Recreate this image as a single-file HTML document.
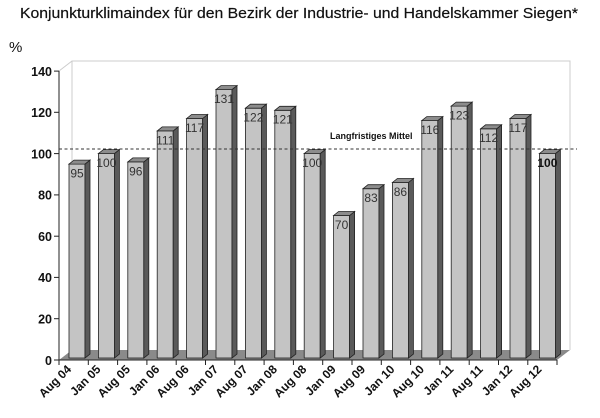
<!DOCTYPE html>
<html><head><meta charset="utf-8"><style>
body{margin:0;background:#fff;}
svg{display:block;font-family:"Liberation Sans",sans-serif;}
</style></head><body>
<svg width="600" height="418" viewBox="0 0 600 418" xmlns="http://www.w3.org/2000/svg">
<text x="20" y="18" font-size="15" textLength="558" lengthAdjust="spacingAndGlyphs" fill="#111" stroke="#111" stroke-width="0.2">Konjunkturklimaindex für den Bezirk der Industrie- und Handelskammer Siegen*</text>
<text x="9" y="52" font-size="15" fill="#111">%</text>
<polyline points="72,350 72,61 570,61 570,350" fill="none" stroke="#ccc" stroke-width="1"/>
<line x1="59" y1="71" x2="72" y2="61" stroke="#ccc"/>
<polygon points="59,360 72,350 570,350 557,360" fill="#8a8a8a"/>
<line x1="59" y1="71" x2="59" y2="360" stroke="#222"/>
<line x1="59" y1="360" x2="557" y2="360" stroke="#222"/>
<g stroke="#222">
<line x1="54" y1="360" x2="59" y2="360"/><line x1="54" y1="318.7" x2="59" y2="318.7"/>
<line x1="54" y1="277.4" x2="59" y2="277.4"/><line x1="54" y1="236.2" x2="59" y2="236.2"/>
<line x1="54" y1="194.9" x2="59" y2="194.9"/><line x1="54" y1="153.6" x2="59" y2="153.6"/>
<line x1="54" y1="112.3" x2="59" y2="112.3"/><line x1="54" y1="71.1" x2="59" y2="71.1"/>
</g>
<g font-size="12.5" font-weight="bold" text-anchor="end" fill="#111">
<text x="52" y="365">0</text><text x="52" y="323.5">20</text><text x="52" y="282">40</text>
<text x="52" y="241">60</text><text x="52" y="199.5">80</text><text x="52" y="158.5">100</text>
<text x="52" y="117">120</text><text x="52" y="76">140</text>
</g>
<g stroke="#222">
<line x1="59" y1="360" x2="59" y2="365"/><line x1="88.3" y1="360" x2="88.3" y2="365"/>
<line x1="117.6" y1="360" x2="117.6" y2="365"/><line x1="146.9" y1="360" x2="146.9" y2="365"/>
<line x1="176.2" y1="360" x2="176.2" y2="365"/><line x1="205.5" y1="360" x2="205.5" y2="365"/>
<line x1="234.8" y1="360" x2="234.8" y2="365"/><line x1="264.1" y1="360" x2="264.1" y2="365"/>
<line x1="293.4" y1="360" x2="293.4" y2="365"/><line x1="322.7" y1="360" x2="322.7" y2="365"/>
<line x1="352" y1="360" x2="352" y2="365"/><line x1="381.3" y1="360" x2="381.3" y2="365"/>
<line x1="410.6" y1="360" x2="410.6" y2="365"/><line x1="439.9" y1="360" x2="439.9" y2="365"/>
<line x1="469.2" y1="360" x2="469.2" y2="365"/><line x1="498.5" y1="360" x2="498.5" y2="365"/>
<line x1="527.8" y1="360" x2="527.8" y2="365"/><line x1="557" y1="360" x2="557" y2="365"/>
</g>
<g stroke="#222" stroke-width="0.8">
<g transform="translate(69,0)"><rect x="0" y="164.1" width="16" height="193.9" fill="#c4c4c4"/><polygon points="16,164.1 21,160.1 21,354 16,358" fill="#5a5a5a"/><polygon points="0,164.1 5,160.1 21,160.1 16,164.1" fill="#8c8c8c"/></g>
<g transform="translate(98.4,0)"><rect x="0" y="153.6" width="16" height="204.4" fill="#c4c4c4"/><polygon points="16,153.6 21,149.6 21,354 16,358" fill="#5a5a5a"/><polygon points="0,153.6 5,149.6 21,149.6 16,153.6" fill="#8c8c8c"/></g>
<g transform="translate(127.8,0)"><rect x="0" y="161.9" width="16" height="196.1" fill="#c4c4c4"/><polygon points="16,161.9 21,157.9 21,354 16,358" fill="#5a5a5a"/><polygon points="0,161.9 5,157.9 21,157.9 16,161.9" fill="#8c8c8c"/></g>
<g transform="translate(157.2,0)"><rect x="0" y="130.9" width="16" height="227.1" fill="#c4c4c4"/><polygon points="16,130.9 21,126.9 21,354 16,358" fill="#5a5a5a"/><polygon points="0,130.9 5,126.9 21,126.9 16,130.9" fill="#8c8c8c"/></g>
<g transform="translate(186.6,0)"><rect x="0" y="118.5" width="16" height="239.5" fill="#c4c4c4"/><polygon points="16,118.5 21,114.5 21,354 16,358" fill="#5a5a5a"/><polygon points="0,118.5 5,114.5 21,114.5 16,118.5" fill="#8c8c8c"/></g>
<g transform="translate(216,0)"><rect x="0" y="89.6" width="16" height="268.4" fill="#c4c4c4"/><polygon points="16,89.6 21,85.6 21,354 16,358" fill="#5a5a5a"/><polygon points="0,89.6 5,85.6 21,85.6 16,89.6" fill="#8c8c8c"/></g>
<g transform="translate(245.4,0)"><rect x="0" y="108.2" width="16" height="249.8" fill="#c4c4c4"/><polygon points="16,108.2 21,104.2 21,354 16,358" fill="#5a5a5a"/><polygon points="0,108.2 5,104.2 21,104.2 16,108.2" fill="#8c8c8c"/></g>
<g transform="translate(274.8,0)"><rect x="0" y="110.3" width="16" height="247.7" fill="#c4c4c4"/><polygon points="16,110.3 21,106.3 21,354 16,358" fill="#5a5a5a"/><polygon points="0,110.3 5,106.3 21,106.3 16,110.3" fill="#8c8c8c"/></g>
<g transform="translate(304.2,0)"><rect x="0" y="153.6" width="16" height="204.4" fill="#c4c4c4"/><polygon points="16,153.6 21,149.6 21,354 16,358" fill="#5a5a5a"/><polygon points="0,153.6 5,149.6 21,149.6 16,153.6" fill="#8c8c8c"/></g>
<g transform="translate(333.6,0)"><rect x="0" y="215.5" width="16" height="142.5" fill="#c4c4c4"/><polygon points="16,215.5 21,211.5 21,354 16,358" fill="#5a5a5a"/><polygon points="0,215.5 5,211.5 21,211.5 16,215.5" fill="#8c8c8c"/></g>
<g transform="translate(363,0)"><rect x="0" y="188.7" width="16" height="169.3" fill="#c4c4c4"/><polygon points="16,188.7 21,184.7 21,354 16,358" fill="#5a5a5a"/><polygon points="0,188.7 5,184.7 21,184.7 16,188.7" fill="#8c8c8c"/></g>
<g transform="translate(392.4,0)"><rect x="0" y="182.5" width="16" height="175.5" fill="#c4c4c4"/><polygon points="16,182.5 21,178.5 21,354 16,358" fill="#5a5a5a"/><polygon points="0,182.5 5,178.5 21,178.5 16,182.5" fill="#8c8c8c"/></g>
<g transform="translate(421.8,0)"><rect x="0" y="120.6" width="16" height="237.4" fill="#c4c4c4"/><polygon points="16,120.6 21,116.6 21,354 16,358" fill="#5a5a5a"/><polygon points="0,120.6 5,116.6 21,116.6 16,120.6" fill="#8c8c8c"/></g>
<g transform="translate(451.2,0)"><rect x="0" y="106.1" width="16" height="251.9" fill="#c4c4c4"/><polygon points="16,106.1 21,102.1 21,354 16,358" fill="#5a5a5a"/><polygon points="0,106.1 5,102.1 21,102.1 16,106.1" fill="#8c8c8c"/></g>
<g transform="translate(480.6,0)"><rect x="0" y="128.8" width="16" height="229.2" fill="#c4c4c4"/><polygon points="16,128.8 21,124.8 21,354 16,358" fill="#5a5a5a"/><polygon points="0,128.8 5,124.8 21,124.8 16,128.8" fill="#8c8c8c"/></g>
<g transform="translate(510,0)"><rect x="0" y="118.5" width="16" height="239.5" fill="#c4c4c4"/><polygon points="16,118.5 21,114.5 21,354 16,358" fill="#5a5a5a"/><polygon points="0,118.5 5,114.5 21,114.5 16,118.5" fill="#8c8c8c"/></g>
<g transform="translate(539.4,0)"><rect x="0" y="153.6" width="16" height="204.4" fill="#c4c4c4"/><polygon points="16,153.6 21,149.6 21,354 16,358" fill="#5a5a5a"/><polygon points="0,153.6 5,149.6 21,149.6 16,153.6" fill="#8c8c8c"/></g>
</g>
<line x1="59" y1="149" x2="577" y2="149" stroke="#333" stroke-dasharray="3,2.5" stroke-width="1"/>
<text x="330" y="139" font-size="9" font-weight="bold" fill="#111">Langfristiges Mittel</text>
<g font-size="12" text-anchor="middle" fill="#333">
<text x="77" y="177.5">95</text><text x="106.4" y="167">100</text><text x="135.8" y="175.5">96</text>
<text x="165.2" y="144.5">111</text><text x="194.6" y="132">117</text><text x="224" y="103">131</text>
<text x="253.4" y="121.5">122</text><text x="282.8" y="123.5">121</text><text x="312.2" y="167">100</text>
<text x="341.6" y="229">70</text><text x="371" y="202">83</text><text x="400.4" y="196">86</text>
<text x="429.8" y="134">116</text><text x="459.2" y="119.5">123</text><text x="488.6" y="142">112</text>
<text x="518" y="132">117</text><text x="547.4" y="167" font-weight="bold" fill="#111">100</text>
</g>
<g font-size="12" font-weight="bold" text-anchor="end" fill="#111">
<text transform="translate(72,370) rotate(-45)">Aug 04</text>
<text transform="translate(101.4,370) rotate(-45)">Jan 05</text>
<text transform="translate(130.8,370) rotate(-45)">Aug 05</text>
<text transform="translate(160.2,370) rotate(-45)">Jan 06</text>
<text transform="translate(189.6,370) rotate(-45)">Aug 06</text>
<text transform="translate(219,370) rotate(-45)">Jan 07</text>
<text transform="translate(248.4,370) rotate(-45)">Aug 07</text>
<text transform="translate(277.8,370) rotate(-45)">Jan 08</text>
<text transform="translate(307.2,370) rotate(-45)">Aug 08</text>
<text transform="translate(336.6,370) rotate(-45)">Jan 09</text>
<text transform="translate(366,370) rotate(-45)">Aug 09</text>
<text transform="translate(395.4,370) rotate(-45)">Jan 10</text>
<text transform="translate(424.8,370) rotate(-45)">Aug 10</text>
<text transform="translate(454.2,370) rotate(-45)">Jan 11</text>
<text transform="translate(483.6,370) rotate(-45)">Aug 11</text>
<text transform="translate(513,370) rotate(-45)">Jan 12</text>
<text transform="translate(542.4,370) rotate(-45)">Aug 12</text>
</g>
</svg>
</body></html>
